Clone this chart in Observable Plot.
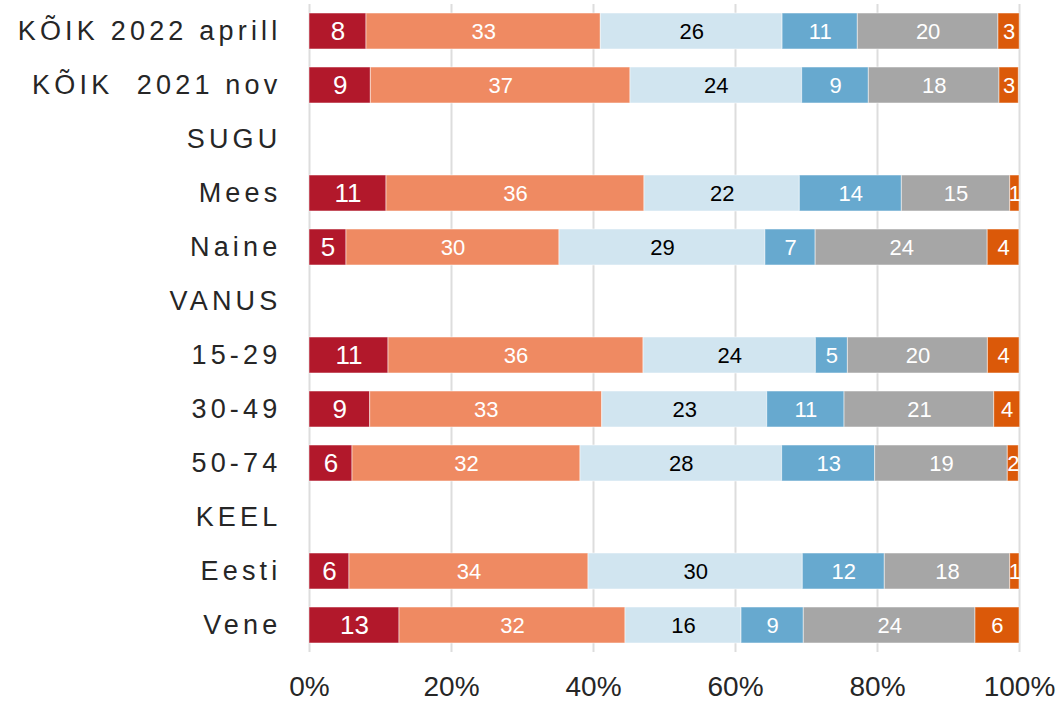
<!DOCTYPE html>
<html>
<head>
<meta charset="utf-8">
<script src="https://cdn.jsdelivr.net/npm/d3@7"></script>
<script src="https://cdn.jsdelivr.net/npm/@observablehq/plot@0.6"></script>
<style>
  html, body { margin: 0; padding: 0; background: #fff; }
  #chart svg text { white-space: pre; }
  #chart g[aria-label="y-axis tick label"] text { letter-spacing: 4.2px; }
</style>
</head>
<body>
<div id="chart"></div>
<script>
// Row categories (group headers have no data)
const categories = ["KÕIK 2022 aprill", "KÕIK  2021 nov", "SUGU", "Mees", "Naine", "VANUS", "15-29", "30-49", "50-74", "KEEL", "Eesti", "Vene"];
const dataRows = ["KÕIK 2022 aprill", "KÕIK  2021 nov", "Mees", "Naine", "15-29", "30-49", "50-74", "Eesti", "Vene"];
const series = ["s1", "s2", "s3", "s4", "s5", "s6"];
const colors = ["#b2182b", "#ef8a62", "#d1e5f0", "#67a9cf", "#a6a6a6", "#db5909"];
const textColors = ["white", "white", "black", "white", "white", "white"];
const textSizes = [26, 22, 22, 22, 22, 22];

// Values per series, in order of dataRows (percent)
const s1 = [8.03, 8.64, 10.85, 5.21, 11.13, 8.55, 6.06, 5.63, 12.68];
const s2 = [33.0, 36.57, 36.33, 30.0, 35.92, 32.68, 32.11, 33.67, 31.83];
const s3 = [25.6, 24.18, 21.88, 29.0, 24.27, 23.24, 28.4, 30.18, 16.34];
const s4 = [10.6, 9.39, 14.37, 7.08, 4.51, 10.89, 13.1, 11.55, 8.77];
const s5 = [19.8, 18.4, 15.26, 24.23, 19.72, 21.08, 18.68, 17.66, 24.18];
const s6 = [3.0, 2.72, 1.31, 4.46, 4.46, 3.66, 1.55, 1.31, 6.2];
const xTicks = [0, 20, 40, 60, 80, 100];

const seriesValues = [s1, s2, s3, s4, s5, s6];
const data = [];
dataRows.forEach((cat, i) => {
  series.forEach((s, j) => {
    data.push({cat, series: s, idx: j, value: seriesValues[j][i], label: String(Math.round(seriesValues[j][i]))});
  });
});

const font = "'Liberation Sans', Arial, sans-serif";

const chart = Plot.plot({
  width: 1061,
  height: 701,
  marginLeft: 309,
  marginRight: 42,
  marginTop: 4,
  marginBottom: 49,
  style: {fontFamily: font, background: "white", overflow: "visible"},
  x: {domain: [0, 100], ticks: xTicks, tickFormat: d => d + "%"},
  y: {domain: categories, paddingInner: 1/3, paddingOuter: 1/6},
  color: {domain: series, range: colors},
  marks: [
    Plot.gridX(xTicks, {stroke: "#dddddd", strokeOpacity: 1, strokeWidth: 2}),
    Plot.barX(data, Plot.stackX({x: "value", y: "cat", z: "series", order: series, fill: "series", stroke: "white", strokeWidth: 1, strokeOpacity: 0.5})),
    Plot.text(data, Plot.stackX({x: "value", y: "cat", z: "series", order: series, text: "label",
      fill: d => textColors[d.idx], fontSize: d => textSizes[d.idx]})),
    Plot.axisX({ticks: xTicks, tickFormat: d => d + "%", tickSize: 0, tickPadding: 24, fontSize: 28, fill: "#262626", label: null}),
    Plot.axisY({tickSize: 0, tickPadding: 28, fontSize: 27, fill: "#262626", label: null})
  ]
});
document.getElementById("chart").appendChild(chart);
</script>
</body>
</html>
